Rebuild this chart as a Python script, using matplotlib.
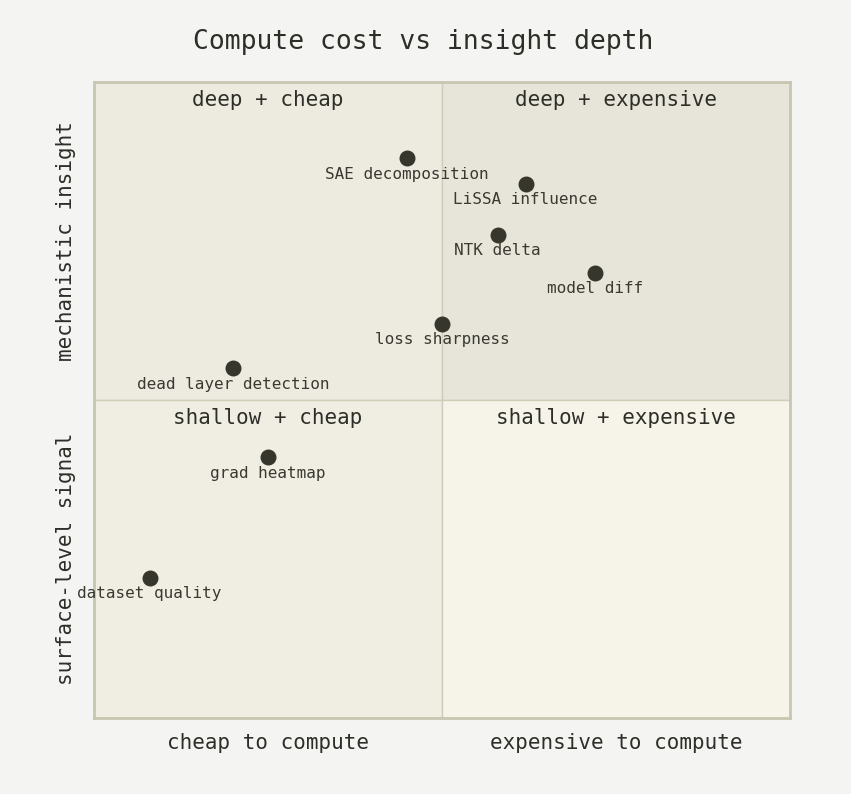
import matplotlib.pyplot as plt
from matplotlib.patches import Rectangle

names = ['SAE decomposition', 'LiSSA influence', 'NTK delta', 'model diff',
         'loss sharpness', 'dead layer detection', 'grad heatmap', 'dataset quality']
cost = [0.45, 0.62, 0.58, 0.72, 0.50, 0.20, 0.25, 0.08]
depth = [0.88, 0.84, 0.76, 0.70, 0.62, 0.55, 0.41, 0.22]

quadrants = [('deep + cheap', 0.0, 0.5, '#edebe0'),
             ('deep + expensive', 0.5, 0.5, '#e7e5d9'),
             ('shallow + cheap', 0.0, 0.0, '#f0eee3'),
             ('shallow + expensive', 0.5, 0.0, '#f6f4e9')]

plt.rcParams['font.family'] = 'DejaVu Sans Mono'
fig = plt.figure(figsize=(8.51, 7.94), dpi=100, facecolor='#f4f4f2')
ax = fig.add_axes([94 / 851, 76 / 794, 696 / 851, 636 / 794])

# quadrant backgrounds and titles
for title, x0, y0, col in quadrants:
    ax.add_patch(Rectangle((x0, y0), 0.5, 0.5, facecolor=col, edgecolor='#cfcdb8', lw=1))
    ax.text(x0 + 0.25, y0 + 0.472, title, ha='center', va='center', fontsize=15, color='#2e2e28')

ax.scatter(cost, depth, s=110, color='#36362c', zorder=3)
for n, x, y in zip(names, cost, depth):
    ax.text(x, y - 0.025, n, ha='center', va='center', fontsize=11.5, color='#3a3a32')

ax.set_xlim(0, 1)
ax.set_ylim(0, 1)
ax.set_xticks([])
ax.set_yticks([])
for s in ax.spines.values():
    s.set_color('#c8c6b0')
    s.set_linewidth(2)

ax.text(0.25, -0.04, 'cheap to compute', ha='center', va='center', fontsize=15, color='#2e2e28')
ax.text(0.75, -0.04, 'expensive to compute', ha='center', va='center', fontsize=15, color='#2e2e28')
ax.text(-0.04, 0.75, 'mechanistic insight', ha='center', va='center', rotation=90, fontsize=15, color='#2e2e28')
ax.text(-0.04, 0.25, 'surface-level signal', ha='center', va='center', rotation=90, fontsize=15, color='#2e2e28')
fig.text(423 / 851, 1 - 42 / 794, 'Compute cost vs insight depth', ha='center', va='center',
         fontsize=19, color='#2e2e28')

fig.savefig('out.png', dpi=100, facecolor=fig.get_facecolor())
